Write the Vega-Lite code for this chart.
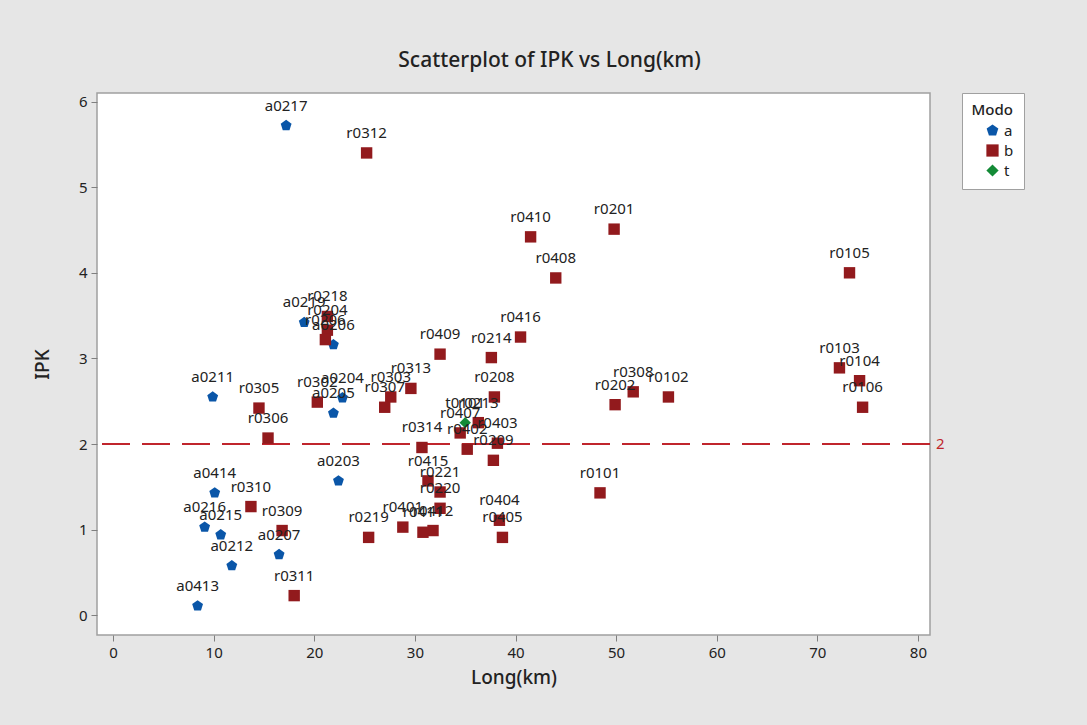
{
  "$schema": "https://vega.github.io/schema/vega-lite/v6.json",
  "width": 833,
  "height": 542,
  "autosize": {"type": "none"},
  "padding": {"left": 97, "top": 93, "right": 157, "bottom": 90},
  "background": "#e6e6e6",
  "config": {
    "font": "Noto Sans",
    "view": {"fill": "white", "stroke": "#a0a0a0", "strokeWidth": 1.5},
    "axis": {"grid": false, "domain": false, "tickColor": "#7f7f7f", "tickSize": 6, "labelFontSize": 15, "labelColor": "#222", "titleFontSize": 19, "titleFontWeight": 500, "titleColor": "#222"}
  },
  "title": {"text": "Scatterplot of IPK vs Long(km)", "fontSize": 21, "fontWeight": 500, "color": "#222", "anchor": "middle", "dx": 36, "offset": 22},
  "data": {"values": [
    {"Modo": "a", "Long": 17.2, "IPK": 5.72, "id": "a0217"},
    {"Modo": "a", "Long": 9.9, "IPK": 2.55, "id": "a0211"},
    {"Modo": "a", "Long": 22.4, "IPK": 1.57, "id": "a0203"},
    {"Modo": "a", "Long": 10.1, "IPK": 1.43, "id": "a0414"},
    {"Modo": "a", "Long": 9.1, "IPK": 1.03, "id": "a0216"},
    {"Modo": "a", "Long": 10.7, "IPK": 0.94, "id": "a0215"},
    {"Modo": "a", "Long": 11.8, "IPK": 0.58, "id": "a0212"},
    {"Modo": "a", "Long": 16.5, "IPK": 0.71, "id": "a0207"},
    {"Modo": "a", "Long": 8.4, "IPK": 0.11, "id": "a0413"},
    {"Modo": "a", "Long": 22.8, "IPK": 2.54, "id": "a0204"},
    {"Modo": "a", "Long": 21.9, "IPK": 2.36, "id": "a0205"},
    {"Modo": "a", "Long": 19.0, "IPK": 3.42, "id": "a0219"},
    {"Modo": "a", "Long": 21.9, "IPK": 3.16, "id": "a0206"},
    {"Modo": "b", "Long": 25.2, "IPK": 5.40, "id": "r0312"},
    {"Modo": "b", "Long": 41.5, "IPK": 4.42, "id": "r0410"},
    {"Modo": "b", "Long": 49.8, "IPK": 4.51, "id": "r0201"},
    {"Modo": "b", "Long": 44.0, "IPK": 3.94, "id": "r0408"},
    {"Modo": "b", "Long": 73.2, "IPK": 4.00, "id": "r0105"},
    {"Modo": "b", "Long": 40.5, "IPK": 3.25, "id": "r0416"},
    {"Modo": "b", "Long": 32.5, "IPK": 3.05, "id": "r0409"},
    {"Modo": "b", "Long": 37.6, "IPK": 3.01, "id": "r0214"},
    {"Modo": "b", "Long": 29.6, "IPK": 2.65, "id": "r0313"},
    {"Modo": "b", "Long": 37.9, "IPK": 2.55, "id": "r0208"},
    {"Modo": "b", "Long": 72.2, "IPK": 2.89, "id": "r0103"},
    {"Modo": "b", "Long": 74.2, "IPK": 2.74, "id": "r0104"},
    {"Modo": "b", "Long": 74.5, "IPK": 2.43, "id": "r0106"},
    {"Modo": "b", "Long": 55.2, "IPK": 2.55, "id": "r0102"},
    {"Modo": "b", "Long": 51.7, "IPK": 2.61, "id": "r0308"},
    {"Modo": "b", "Long": 49.9, "IPK": 2.46, "id": "r0202"},
    {"Modo": "b", "Long": 14.5, "IPK": 2.42, "id": "r0305"},
    {"Modo": "b", "Long": 15.4, "IPK": 2.07, "id": "r0306"},
    {"Modo": "b", "Long": 20.3, "IPK": 2.49, "id": "r0302"},
    {"Modo": "b", "Long": 27.6, "IPK": 2.55, "id": "r0303"},
    {"Modo": "b", "Long": 27.0, "IPK": 2.43, "id": "r0307"},
    {"Modo": "b", "Long": 21.3, "IPK": 3.49, "id": "r0218"},
    {"Modo": "b", "Long": 21.3, "IPK": 3.33, "id": "r0204"},
    {"Modo": "b", "Long": 21.1, "IPK": 3.22, "id": "r0206"},
    {"Modo": "b", "Long": 36.3, "IPK": 2.25, "id": "r0213"},
    {"Modo": "b", "Long": 34.5, "IPK": 2.13, "id": "r0407"},
    {"Modo": "b", "Long": 38.2, "IPK": 2.01, "id": "r0403"},
    {"Modo": "b", "Long": 37.8, "IPK": 1.81, "id": "r0209"},
    {"Modo": "b", "Long": 35.2, "IPK": 1.94, "id": "r0402"},
    {"Modo": "b", "Long": 30.7, "IPK": 1.96, "id": "r0314"},
    {"Modo": "b", "Long": 31.3, "IPK": 1.57, "id": "r0415"},
    {"Modo": "b", "Long": 32.5, "IPK": 1.44, "id": "r0221"},
    {"Modo": "b", "Long": 32.5, "IPK": 1.25, "id": "r0220"},
    {"Modo": "b", "Long": 31.8, "IPK": 0.99, "id": "r0412"},
    {"Modo": "b", "Long": 30.8, "IPK": 0.97, "id": "r0411"},
    {"Modo": "b", "Long": 28.8, "IPK": 1.03, "id": "r0401"},
    {"Modo": "b", "Long": 25.4, "IPK": 0.91, "id": "r0219"},
    {"Modo": "b", "Long": 38.4, "IPK": 1.11, "id": "r0404"},
    {"Modo": "b", "Long": 38.7, "IPK": 0.91, "id": "r0405"},
    {"Modo": "b", "Long": 48.4, "IPK": 1.43, "id": "r0101"},
    {"Modo": "b", "Long": 13.7, "IPK": 1.27, "id": "r0310"},
    {"Modo": "b", "Long": 16.8, "IPK": 0.99, "id": "r0309"},
    {"Modo": "b", "Long": 18.0, "IPK": 0.23, "id": "r0311"},
    {"Modo": "t", "Long": 35.0, "IPK": 2.25, "id": "t0101"}
  ]},
  "layer": [
    {
      "mark": {"type": "rule", "strokeDash": [28, 12], "strokeWidth": 1.5, "color": "#c0262c"},
      "encoding": {"y": {"datum": 2, "type": "quantitative", "scale": {"domain": [-0.23, 6.1], "nice": false, "zero": false}}}
    },
    {
      "data": {"values": [{"ref": 2}]},
      "mark": {"type": "text", "align": "left", "baseline": "middle", "dx": 6, "fontSize": 15, "color": "#c0262c", "clip": false},
      "encoding": {
        "x": {"datum": 81.2, "type": "quantitative"},
        "y": {"field": "ref", "type": "quantitative"},
        "text": {"field": "ref"}
      }
    },
    {
      "mark": {"type": "point", "filled": true, "opacity": 1, "size": 130},
      "encoding": {
        "x": {"field": "Long", "type": "quantitative", "title": "Long(km)", "scale": {"domain": [-1.6, 81.2], "nice": false, "zero": false}, "axis": {"values": [0, 10, 20, 30, 40, 50, 60, 70, 80], "format": "d", "labelPadding": 4, "titlePadding": 8}},
        "y": {"field": "IPK", "type": "quantitative", "title": "IPK", "scale": {"domain": [-0.23, 6.1], "nice": false, "zero": false}, "axis": {"values": [0, 1, 2, 3, 4, 5, 6], "format": "d", "labelPadding": 4, "titlePadding": 26}},
        "color": {"field": "Modo", "type": "nominal", "scale": {"domain": ["a", "b", "t"], "range": ["#0a56a8", "#921a1d", "#138a36"]},
          "legend": {"title": "Modo", "orient": "none", "legendX": 865, "legendY": 0, "fillColor": "white", "strokeColor": "#a0a0a0", "padding": 10, "titleFontSize": 15, "titleFontWeight": 500, "titleColor": "#222", "labelFontSize": 15, "labelColor": "#222", "symbolSize": 150, "rowPadding": 4, "titleAnchor": "end"}},
        "shape": {"field": "Modo", "type": "nominal", "scale": {"domain": ["a", "b", "t"], "range": ["M0,-1L0.95,-0.31L0.59,0.81L-0.59,0.81L-0.95,-0.31Z", "square", "diamond"]}, "legend": null}
      }
    },
    {
      "mark": {"type": "text", "dy": -20, "fontSize": 15, "color": "#222"},
      "encoding": {
        "x": {"field": "Long", "type": "quantitative"},
        "y": {"field": "IPK", "type": "quantitative"},
        "text": {"field": "id"}
      }
    }
  ]
}
